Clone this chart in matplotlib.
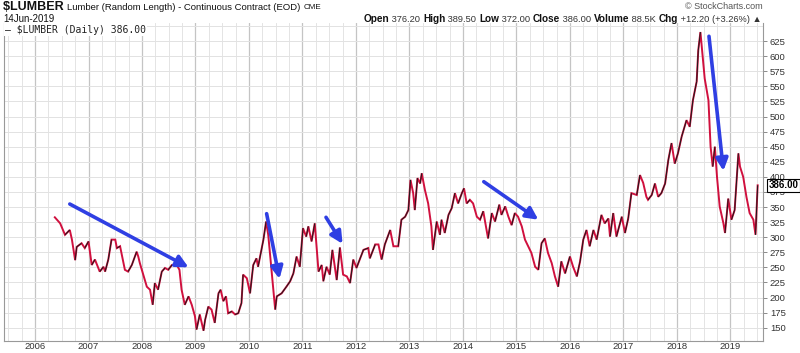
import matplotlib
matplotlib.use("Agg")
import matplotlib.pyplot as plt
import numpy as np
from matplotlib.collections import LineCollection
from matplotlib.patches import FancyArrowPatch

# lumber close, decimal year vs price
dates = [
    2006.37, 2006.47, 2006.56, 2006.65, 2006.69, 2006.75, 2006.78, 2006.87, 2006.93, 2007.00,
    2007.06, 2007.12, 2007.21, 2007.28, 2007.31, 2007.37, 2007.43, 2007.50, 2007.53, 2007.59,
    2007.68, 2007.74, 2007.81, 2007.90, 2007.93, 2007.96, 2008.09, 2008.15, 2008.20, 2008.24,
    2008.30, 2008.37, 2008.43, 2008.49, 2008.56, 2008.65, 2008.70, 2008.74, 2008.80, 2008.87,
    2008.93, 2008.99, 2009.02, 2009.08, 2009.15, 2009.18, 2009.24, 2009.30, 2009.36, 2009.43,
    2009.47, 2009.52, 2009.57, 2009.61, 2009.68, 2009.74, 2009.80, 2009.86, 2009.89, 2009.96,
    2010.02, 2010.08, 2010.14, 2010.17, 2010.24, 2010.27, 2010.32, 2010.36, 2010.42, 2010.49,
    2010.52, 2010.61, 2010.70, 2010.77, 2010.83, 2010.89, 2010.95, 2011.01, 2011.07, 2011.11,
    2011.17, 2011.23, 2011.30, 2011.36, 2011.39, 2011.45, 2011.51, 2011.56, 2011.64, 2011.70,
    2011.76, 2011.83, 2011.89, 2011.95, 2012.01, 2012.07, 2012.14, 2012.23, 2012.26, 2012.36,
    2012.42, 2012.48, 2012.54, 2012.64, 2012.70, 2012.79, 2012.85, 2012.92, 2012.98, 2013.02,
    2013.07, 2013.10, 2013.15, 2013.20, 2013.23, 2013.29, 2013.35, 2013.41, 2013.44, 2013.51,
    2013.57, 2013.60, 2013.66, 2013.73, 2013.79, 2013.85, 2013.91, 2013.98, 2014.02, 2014.07,
    2014.13, 2014.19, 2014.26, 2014.32, 2014.38, 2014.47, 2014.54, 2014.60, 2014.68, 2014.72,
    2014.79, 2014.85, 2014.91, 2014.97, 2015.03, 2015.10, 2015.16, 2015.22, 2015.28, 2015.35,
    2015.41, 2015.47, 2015.53, 2015.59, 2015.66, 2015.72, 2015.78, 2015.84, 2015.91, 2016.00,
    2016.06, 2016.13, 2016.19, 2016.25, 2016.31, 2016.37, 2016.44, 2016.50, 2016.59, 2016.65,
    2016.72, 2016.75, 2016.81, 2016.87, 2016.97, 2017.03, 2017.09, 2017.15, 2017.25, 2017.31,
    2017.37, 2017.43, 2017.46, 2017.53, 2017.59, 2017.65, 2017.71, 2017.78, 2017.84, 2017.90,
    2017.96, 2018.02, 2018.09, 2018.18, 2018.24, 2018.30, 2018.37, 2018.40, 2018.44, 2018.49,
    2018.52, 2018.59, 2018.63, 2018.67, 2018.71, 2018.75, 2018.80, 2018.87, 2018.90, 2018.96,
    2019.02, 2019.08, 2019.15, 2019.18, 2019.24, 2019.30, 2019.36, 2019.43, 2019.47, 2019.51,
]
prices = [
    333, 323, 304, 312, 296, 262, 284, 290, 282, 293,
    254, 263, 243, 251, 243, 263, 296, 296, 282, 285,
    246, 243, 254, 276, 268, 257, 218, 213, 188, 224,
    213, 243, 249, 246, 254, 254, 246, 213, 188, 202,
    188, 169, 147, 172, 145, 163, 185, 180, 158, 207,
    213, 194, 202, 174, 177, 172, 174, 191, 238, 232,
    207, 254, 265, 251, 282, 296, 326, 304, 246, 180,
    202, 207, 218, 227, 240, 268, 251, 315, 301, 318,
    293, 323, 243, 254, 227, 251, 238, 279, 229, 283,
    238, 235, 224, 263, 249, 263, 279, 282, 265, 288,
    288, 263, 288, 312, 285, 285, 329, 334, 345, 395,
    373, 345, 398, 389, 406, 378, 356, 318, 279, 326,
    304, 329, 307, 337, 348, 373, 356, 373, 381, 356,
    362, 356, 334, 329, 343, 298, 340, 326, 354, 337,
    351, 334, 320, 340, 334, 318, 296, 285, 274, 251,
    246, 290, 298, 274, 257, 235, 218, 260, 240, 268,
    251, 235, 260, 296, 312, 285, 312, 296, 337, 323,
    331, 301, 340, 301, 334, 307, 331, 373, 370, 403,
    390, 367, 362, 370, 389, 367, 373, 389, 428, 456,
    422, 439, 467, 494, 483, 527, 558, 610, 640, 591,
    563, 527, 450, 417, 450, 400, 351, 323, 307, 364,
    329, 345, 439, 417, 400, 367, 340, 329, 304, 386,
]

# blue trend arrows: (start year, start price, end year, end price)
arrows = [
    (2006.65, 355, 2008.87, 250),
    (2010.33, 339, 2010.57, 231),
    (2011.44, 333, 2011.75, 289),
    (2014.39, 392, 2015.41, 329),
    (2018.60, 633, 2018.87, 410),
]

years = list(range(2006, 2020))
price_ticks = list(range(150, 650, 25))

quote_parts = [
    ("Open", "376.20"), ("High", "389.50"), ("Low", "372.00"),
    ("Close", "386.00"), ("Volume", "88.5K"), ("Chg", "+12.20 (+3.26%) \u25b2"),
]

W, H = 800, 353
RED = "#d0103e"
BLUE = "#2f3fe3"


def fx(px):
    return px / W


def fy(py):
    return 1 - py / H


fig = plt.figure(figsize=(W / 100, H / 100), dpi=100)
ax = fig.add_axes([fx(4), fy(341), (763 - 4) / W, (341 - 23) / H])
ax.set_xlim(2005.42, 2019.61)
ax.set_ylim(128, 655)

# grid: quarterly vertical lines, darker at year start
for yr in range(2005, 2020):
    for q in range(4):
        xv = yr + q * 0.25
        ax.axvline(xv, color="#c4c4c4" if q == 0 else "#e4e4e4", lw=0.9 if q == 0 else 0.7, zorder=0)
for pv in range(125, 675, 25):
    ax.axhline(pv, color="#e2e2e2", lw=0.7, zorder=0)

# price line: red throughout, up moves drawn darker on top
x = np.asarray(dates)
y = np.asarray(prices, dtype=float)
ax.plot(x, y, color=RED, lw=1.4, zorder=3, solid_joinstyle="miter")
segs = np.stack([np.column_stack([x[:-1], y[:-1]]), np.column_stack([x[1:], y[1:]])], axis=1)
up = y[1:] > y[:-1]
ax.add_collection(LineCollection(segs[up], colors="#1a1a1a", linewidths=0.7, zorder=3.5))

for x0, y0, x1, y1 in arrows:
    ax.add_patch(FancyArrowPatch((x0, y0), (x1, y1), arrowstyle="-|>", mutation_scale=18,
                                 color=BLUE, lw=2.6, shrinkA=0, shrinkB=0, zorder=4))

ax.set_xticks(years)
ax.set_xticklabels([str(v) for v in years], fontsize=6.8, color="#333333", family="Liberation Sans")
ax.tick_params(axis="x", length=0, pad=1)
ax.yaxis.tick_right()
ax.set_yticks(price_ticks)
ax.set_yticklabels([str(v) for v in price_ticks], fontsize=6.8, color="#333333", family="Liberation Sans")
ax.tick_params(axis="y", length=3, width=0.6, color="#777777", pad=2)
for side in ("left", "bottom", "right"):
    ax.spines[side].set_color("#999999")
    ax.spines[side].set_linewidth(0.8)
ax.spines["top"].set_visible(False)

# legend label in the plot
ax.text(0.0015, 0.995, "\u2014 $LUMBER (Daily) 386.00", transform=ax.transAxes, ha="left", va="top",
        fontsize=7, family="DejaVu Sans Mono", color="#222222", zorder=6,
        bbox=dict(boxstyle="square,pad=0.12", fc="white", ec="none"))

# last price marker on the right axis
ax.annotate("386.00", xy=(1.0, 386), xycoords=("axes fraction", "data"), xytext=(4, 0),
            textcoords="offset points", ha="left", va="center", fontsize=7, fontweight="bold",
            family="Liberation Sans", color="black", zorder=6, annotation_clip=False,
            bbox=dict(boxstyle="square,pad=0.15", fc="white", ec="black", lw=0.8))

renderer = fig.canvas.get_renderer()


def text_row(parts, x0, py, right=None):
    placed = []
    cur = 0.0
    for s, size, weight, col in parts:
        t = fig.text(0, fy(py), s, fontsize=size, fontweight=weight, family="Liberation Sans",
                     va="center", ha="left", color=col)
        placed.append((t, cur))
        cur += t.get_window_extent(renderer).width
    start = x0 if right is None else right - cur
    for t, off in placed:
        t.set_x(fx(start + off))


# header
text_row([("$LUMBER ", 9, "bold", "#111111"),
          ("Lumber (Random Length) - Continuous Contract (EOD) ", 6.8, "normal", "#111111"),
          ("CME", 5.8, "normal", "#111111")], 3, 7.5)
fig.text(fx(763), fy(6.5), "\u00a9 StockCharts.com", fontsize=6.5, family="Liberation Sans",
         va="center", ha="right", color="#555555")
fig.text(fx(3), fy(19), "14Jun-2019", fontsize=7, family="Liberation Sans", va="center",
         ha="left", color="#111111")

row = []
for label, val in quote_parts:
    row.append((label, 7.2, "bold", "#111111"))
    row.append((" " + val + " ", 6.7, "normal", "#333333"))
text_row(row, 0, 19, right=764)

fig.savefig("out.png", dpi=100)
